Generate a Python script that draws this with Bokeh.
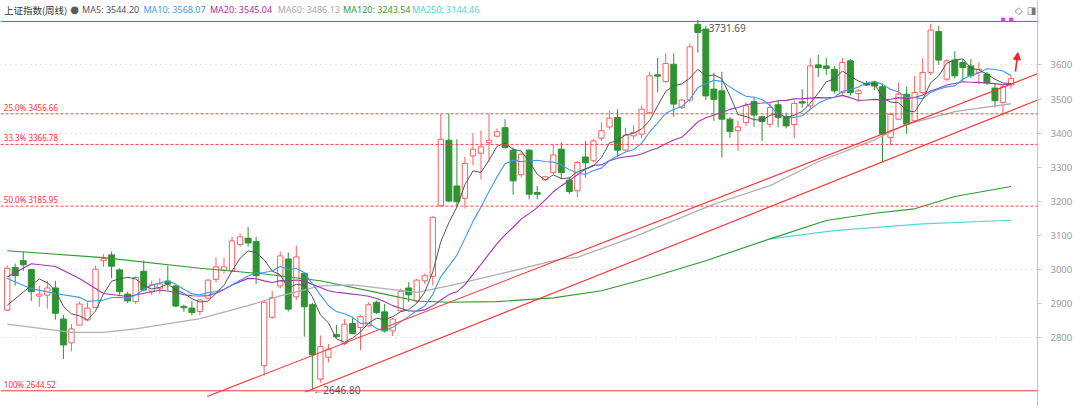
import pandas as pd
from bokeh.plotting import figure
from bokeh.models import ColumnDataSource, Span, Label, FixedTicker, Arrow, NormalHead
from bokeh.embed import file_html
from bokeh.resources import INLINE

# ---------------- data (weekly candles) ----------------
opens = [2881, 3006, 3026, 3000, 2922, 2925, 2946, 2855, 2785, 2837,
         2852, 2889, 3026, 3043, 2999, 2928, 2906, 2995, 2936, 2945,
         2966, 2952, 2892, 2887, 2877, 2916, 2971, 2998, 2996, 3073,
         3092, 3082, 2718, 2860, 2952, 3031, 2920, 2989, 2897, 2679,
         2743, 2809, 2783, 2842, 2830, 2835, 2904, 2876, 2820, 2879,
         2946, 2908, 2967, 2980, 3187, 3379, 3245, 3209, 3333, 3341,
         3372, 3391, 3416, 3350, 3278, 3350, 3226, 3263, 3284, 3353,
         3262, 3231, 3330, 3319, 3385, 3418, 3446, 3350, 3392, 3397,
         3460, 3571, 3551, 3602, 3475, 3497, 3719, 3705, 3529, 3524,
         3441, 3407, 3431, 3492, 3448, 3426, 3483, 3448, 3425, 3492,
         3480, 3600, 3597, 3587, 3519, 3612, 3516, 3545, 3548, 3536,
         3387, 3441, 3514, 3436, 3519, 3578, 3698, 3558, 3614, 3607,
         3597, 3578, 3573, 3532, 3490, 3541]
highs = [3012, 3017, 3053, 3002, 2952, 2967, 2967, 2867, 2840, 2905,
         2904, 3011, 3045, 3053, 3004, 2935, 2980, 3026, 2968, 2975,
         3011, 2955, 2897, 2907, 2913, 2972, 3035, 3035, 3096, 3106,
         3125, 3096, 2910, 2938, 3053, 3050, 3070, 2992, 2903, 2807,
         2782, 2838, 2855, 2857, 2866, 2904, 2909, 2899, 2858, 2944,
         2963, 2973, 2988, 3156, 3456, 3458, 3382, 3331, 3400, 3408,
         3458, 3414, 3441, 3358, 3348, 3353, 3245, 3275, 3367, 3372,
         3270, 3319, 3377, 3382, 3431, 3465, 3470, 3416, 3424, 3480,
         3580, 3621, 3634, 3634, 3500, 3663, 3731.69, 3715, 3577, 3580,
         3447, 3436, 3490, 3506, 3451, 3490, 3497, 3460, 3495, 3529,
         3620, 3630, 3620, 3597, 3620, 3617, 3529, 3553, 3553, 3545,
         3460, 3548, 3536, 3567, 3620, 3721, 3715, 3617, 3640, 3617,
         3617, 3607, 3580, 3544, 3541, 3570]
lows = [2878, 2953, 2996, 2908, 2891, 2885, 2853, 2738, 2760, 2835,
        2850, 2887, 3008, 2975, 2926, 2902, 2899, 2936, 2925, 2930,
        2940, 2890, 2876, 2866, 2866, 2911, 2962, 2988, 2994, 3067,
        3067, 2958, 2689, 2855, 2945, 2877, 2910, 2803, 2646.8, 2668,
        2728, 2800, 2778, 2810, 2764, 2832, 2870, 2815, 2805, 2876,
        2905, 2903, 2958, 2953, 3185, 3197, 3183, 3179, 3306, 3264,
        3316, 3387, 3355, 3219, 3270, 3206, 3206, 3262, 3281, 3265,
        3221, 3212, 3270, 3314, 3377, 3411, 3330, 3346, 3382, 3385,
        3457, 3519, 3548, 3448, 3470, 3490, 3636, 3497, 3436, 3328,
        3386, 3348, 3420, 3418, 3377, 3416, 3417, 3414, 3385, 3475,
        3470, 3565, 3570, 3516, 3507, 3510, 3492, 3538, 3526, 3315,
        3365, 3438, 3398, 3430, 3515, 3570, 3600, 3553, 3560, 3553,
        3562, 3543, 3541, 3475, 3451, 3530]
closes = [3004, 2982, 3014, 2935, 2928, 2946, 2872, 2779, 2826, 2899,
          2887, 3001, 3032, 3010, 2935, 2908, 2977, 2940, 2955, 2958,
          2958, 2893, 2888, 2874, 2911, 2969, 3008, 3008, 3084, 3096,
          3078, 2982, 2904, 2918, 3040, 2884, 3037, 2891, 2750, 2774,
          2767, 2803, 2840, 2813, 2862, 2897, 2874, 2820, 2855, 2936,
          2926, 2969, 2982, 3153, 3382, 3201, 3199, 3311, 3353, 3360,
          3379, 3404, 3358, 3260, 3338, 3221, 3221, 3272, 3336, 3284,
          3229, 3314, 3313, 3377, 3407, 3444, 3350, 3394, 3402, 3470,
          3568, 3567, 3604, 3485, 3497, 3653, 3695, 3509, 3499, 3441,
          3405, 3418, 3480, 3453, 3434, 3475, 3446, 3421, 3487, 3488,
          3597, 3592, 3590, 3524, 3607, 3519, 3524, 3541, 3538, 3397,
          3455, 3514, 3426, 3519, 3578, 3702, 3614, 3612, 3568, 3592,
          3568, 3587, 3548, 3495, 3536, 3560]

# short MAs before their window is full inside the chart: values read at sample weeks
ma5_head_idx, ma5_head_val = [0, 2], [2895, 2934]
ma10_head_idx, ma10_head_val = [0, 3, 6], [2974, 2944, 2930]
ma20_head_idx = [0, 3, 6, 9, 12, 15]
ma20_head_val = [2978, 3017, 3009, 2974, 2930, 2921]

# long moving averages (no history before the window): values read at sample weeks
ma60_idx = [0, 8, 12, 16, 24, 30, 34, 39, 43, 47, 51, 55, 61, 69, 71, 78, 88, 95, 101, 108, 112, 118, 125]
ma60_val = [2840, 2816, 2816, 2826, 2856, 2894, 2923, 2952, 2955, 2944, 2933, 2952, 2985, 3031, 3036,
            3095, 3192, 3246, 3316, 3380, 3426, 3463, 3486.13]
ma120_idx = [0, 12, 24, 32, 39, 47, 51, 55, 61, 68, 74, 80, 87, 95, 102, 108, 113, 118, 125]
ma120_val = [3055, 3035, 3004, 2987, 2967, 2928, 2908, 2904, 2906, 2917, 2938, 2976, 3026, 3090,
             3144, 3165, 3178, 3214, 3243.54]
ma250_idx = [95, 103, 114, 125]
ma250_val = [3090, 3114, 3134, 3144.46]

# legend
series_title = "上证指数(周线)"
ma_names = ["MA5", "MA10", "MA20", "MA60", "MA120", "MA250"]
ma_last = ["3544.20", "3568.07", "3545.04", "3486.13", "3243.54", "3144.46"]

# Fibonacci levels
fib_pct = ["0.0%", "25.0%", "33.3%", "50.0%", "100%"]
fib_val = [3727.37, 3456.66, 3366.78, 3185.95, 2644.52]

# trend lines (week index, price)
trend_up_x = [24.9, 128.3]
trend_up_y = [2628, 3574]
trend_lo_x = [37.1, 128.3]
trend_lo_y = [2641, 3497]

# extreme markers
low_idx, low_val = 38, 2646.80
high_idx, high_val = 86, 3731.69
signal_idx = [124, 125]
signal_val = [3733, 3733]

tick_levels = [2800, 2900, 3000, 3100, 3200, 3300, 3400, 3500, 3600]
grid_levels = [2800, 3000, 3200, 3400, 3600]

# ---------------- styles ----------------
RED = "#ff5f5f"
GREEN = "#2f9332"
MA_COLORS = ["#555555", "#3d9be9", "#a235b4", "#b0b0b0", "#2f9a2f", "#4fd9d9"]
LEG_COLORS = ["#555555", "#3d9be9", "#b02fa8", "#a8a8a8", "#3a9a3a", "#4fd6d6"]
FIB_RED = "#ff4040"

n = len(closes)
df = pd.DataFrame({"i": list(range(n)), "o": opens, "h": highs, "l": lows, "c": closes})
df["top"] = df[["o", "c"]].max(axis=1)
df["bot"] = df[["o", "c"]].min(axis=1)
up = ColumnDataSource(df[df.c >= df.o])
dn = ColumnDataSource(df[df.c < df.o])

cs = pd.Series(closes, dtype=float)


def ma_path(k, head_idx, head_val):
    full = cs.rolling(k).mean()
    xs = list(head_idx) + list(range(k - 1, n))
    ys = list(head_val) + full.iloc[k - 1:].tolist()
    return xs, ys


W, H = 1078, 406
FW = 1037          # frame width in px


def sy(Y):
    return H - Y


p = figure(width=W, height=H, x_range=(-0.834, 128.3), y_range=(2598.5, 3788.8),
           x_axis_type=None, y_axis_location="right", toolbar_location=None,
           output_backend="svg", min_border_left=0, min_border_right=W - FW,
           min_border_top=0, min_border_bottom=0,
           background_fill_color="white", border_fill_color="white")
p.outline_line_color = None
p.xgrid.visible = False
p.ygrid.ticker = FixedTicker(ticks=grid_levels)
p.ygrid.grid_line_color = "#cccccc"
p.ygrid.grid_line_dash = "1 4"

ax = p.yaxis[0]
ax.ticker = FixedTicker(ticks=tick_levels)
ax.axis_line_color = "#c4c4c4"
ax.major_tick_line_color = "#c4c4c4"
ax.major_tick_out = 4
ax.major_tick_in = 0
ax.minor_tick_line_color = None
ax.major_label_text_color = "#9a9a9a"
ax.major_label_text_font = "Noto Sans"
ax.major_label_text_font_size = "9.5px"
ax.major_label_standoff = 9

# Fibonacci lines
for pct, v in zip(fib_pct, fib_val):
    solid = pct in ("0.0%", "100%")
    p.add_layout(Span(location=v, dimension="width", line_color="#e83a3a" if solid else FIB_RED,
                      line_width=1, line_dash="solid" if solid else "3 2"))
    if pct != "0.0%":
        p.add_layout(Label(x=3.3, y=v, x_units="screen", y_units="data", y_offset=1,
                           text=f"{pct} {v:.2f}", text_font="Noto Sans", text_font_size="8px",
                           text_color="#ff3030", text_baseline="bottom"))

# candles
p.segment(x0="i", y0="h", x1="i", y1="l", source=up, line_color=RED, line_width=1)
p.segment(x0="i", y0="h", x1="i", y1="l", source=dn, line_color=GREEN, line_width=1)
p.vbar(x="i", width=0.66, top="top", bottom="bot", source=up,
       fill_color="white", line_color=RED, line_width=1)
p.vbar(x="i", width=0.74, top="top", bottom="bot", source=dn,
       fill_color=GREEN, line_color=GREEN, line_width=1)

# moving averages
p.line(ma250_idx, ma250_val, line_color=MA_COLORS[5], line_width=1.1)
p.line(ma120_idx, ma120_val, line_color=MA_COLORS[4], line_width=1.1)
p.line(ma60_idx, ma60_val, line_color=MA_COLORS[3], line_width=1.3)
x20, y20 = ma_path(20, ma20_head_idx, ma20_head_val)
x10, y10 = ma_path(10, ma10_head_idx, ma10_head_val)
x5, y5 = ma_path(5, ma5_head_idx, ma5_head_val)
p.line(x20, y20, line_color=MA_COLORS[2], line_width=1.1)
p.line(x10, y10, line_color=MA_COLORS[1], line_width=1.1)
p.line(x5, y5, line_color=MA_COLORS[0], line_width=1)

# trend lines
p.line(trend_up_x, trend_up_y, line_color="#ff3030", line_width=1.1)
p.line(trend_lo_x, trend_lo_y, line_color="#ff3030", line_width=1.1)

# signal dots
p.scatter(signal_idx, signal_val, marker="square", size=3, color="#ff33ff")

# extreme labels
p.add_layout(Label(x=low_idx, y=low_val, x_offset=1, text=f"←{low_val:.2f}",
                   text_font="Noto Sans", text_font_size="10px", text_color="#555555",
                   text_baseline="middle"))
p.add_layout(Label(x=high_idx, y=high_val, x_offset=1, y_offset=-1, text=f"←{high_val:.2f}",
                   text_font="Noto Sans", text_font_size="10px", text_color="#555555",
                   text_baseline="top", level="underlay"))

# red arrow
p.add_layout(Arrow(end=NormalHead(size=7, fill_color="#ff2020", line_color="#ff2020"),
                   x_start=125.55, y_start=3580, x_end=125.85, y_end=3636,
                   line_color="#ff2020", line_width=1.6))

# legend row
p.add_layout(Label(x=3.4, y=sy(9), x_units="screen", y_units="screen", text=series_title,
                   text_font="Noto Sans CJK SC", text_font_size="9.5px", text_color="#333333",
                   text_baseline="middle"))
p.add_layout(Label(x=74, y=sy(9), x_units="screen", y_units="screen", text="●",
                   text_font="DejaVu Sans", text_font_size="10px", text_color="#5a5a5a",
                   text_baseline="middle", text_align="center"))
leg_x = [81.6, 142.9, 209.4, 277.2, 342.6, 411.5]
for name, val, col, lx in zip(ma_names, ma_last, LEG_COLORS, leg_x):
    p.add_layout(Label(x=lx, y=sy(9), x_units="screen", y_units="screen",
                       text=f"{name}: {val}", text_font="Noto Sans", text_font_size="9px",
                       text_color=col, text_baseline="middle"))
p.add_layout(Label(x=1018, y=sy(10), x_units="screen", y_units="screen", text="◇",
                   text_font="DejaVu Sans", text_font_size="10px", text_color="#777777",
                   text_baseline="middle", text_align="center"))
p.add_layout(Label(x=1031, y=sy(10), x_units="screen", y_units="screen", text="◨",
                   text_font="DejaVu Sans", text_font_size="10px", text_color="#777777",
                   text_baseline="middle", text_align="center"))

open("out.html", "w").write(file_html(p, INLINE))
